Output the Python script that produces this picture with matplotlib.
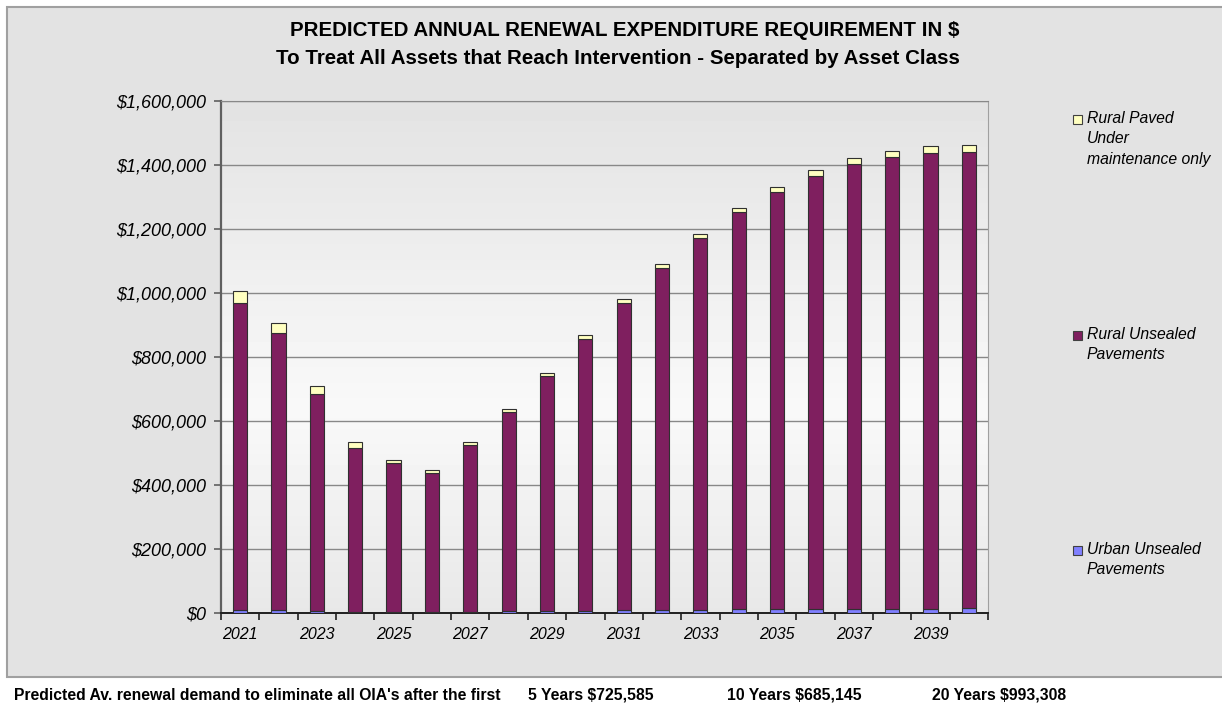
import matplotlib.pyplot as plt
import numpy as np
from matplotlib.patches import Rectangle
from matplotlib.ticker import FuncFormatter, FixedLocator

# ===== DATA =====
years = list(range(2021, 2041))
urban_unsealed = [9000, 9000, 6000, 4000, 4000, 4000, 4000, 5000, 6000, 7000,
                  8000, 9000, 10000, 11000, 11000, 12000, 13000, 14000, 14000, 16000]
rural_unsealed = [961000, 866000, 678000, 512000, 465000, 433000, 521000, 623000, 734000, 849000,
                  961000, 1069000, 1162000, 1242000, 1305000, 1354000, 1390000, 1411000, 1423000, 1425000]
rural_paved = [36000, 31000, 25000, 18000, 9000, 10000, 9000, 9000, 10000, 13000,
               12000, 13000, 12000, 13000, 15000, 18000, 19000, 19000, 22000, 21000]
series_labels = ["Urban Unsealed\nPavements", "Rural Unsealed\nPavements",
                 "Rural Paved\nUnder\nmaintenance only"]
summary_text = "Predicted Av. renewal demand to eliminate all OIA's after the first"
summary_items = ["5 Years $725,585", "10 Years $685,145", "20 Years $993,308"]

colors = ["#8080ff", "#7f1f5f", "#ffffc0"]

plt.rcParams['font.family'] = ['Liberation Sans', 'DejaVu Sans']

fig = plt.figure(figsize=(12.22, 7.07), dpi=100)

# ===== OUTER GRAY PANEL =====
fig.patches.append(Rectangle(
    (7 / 1222, 1 - 677 / 707), 1.0, 670 / 707,
    transform=fig.transFigure, facecolor="#e3e3e3",
    edgecolor="#a0a0a0", linewidth=1.5, zorder=-5
))

ax = fig.add_axes([221 / 1222, 1 - 613 / 707, 767 / 1222, 512 / 707])
ax.set_zorder(2)

# ===== GRADIENT PLOT BACKGROUND =====
grad = np.concatenate([np.linspace(0.89, 0.975, 60), np.linspace(0.975, 0.91, 40)])
ax.imshow(grad[:, None], cmap="gray", vmin=0, vmax=1, aspect="auto",
          extent=[-0.5, 19.5, 0, 1600000], zorder=0)

x = np.arange(len(years))
width = 0.37
bottom = np.zeros(len(years))
for vals, col, lab in zip([urban_unsealed, rural_unsealed, rural_paved], colors, series_labels):
    ax.bar(x, vals, width, bottom=bottom, color=col, edgecolor="#303030",
           linewidth=0.8, label=lab, zorder=3)
    bottom += np.array(vals)

ax.set_xlim(-0.5, 19.5)
ax.set_ylim(0, 1600000)
ax.set_yticks(np.arange(0, 1600001, 200000))
ax.yaxis.set_major_formatter(FuncFormatter(lambda v, p: "${:,.0f}".format(v)))
ax.grid(axis="y", color="#888888", linewidth=1.0, zorder=1)

# boundary ticks, labels on odd years
ax.xaxis.set_major_locator(FixedLocator(np.arange(-0.5, 20, 1)))
ax.set_xticklabels([])
ax.xaxis.set_minor_locator(FixedLocator(x[::2]))
ax.set_xticklabels([str(y) for y in years[::2]], minor=True)
ax.tick_params(axis="x", which="major", length=5, width=1.2, color="#202020", direction="out")
ax.tick_params(axis="x", which="minor", length=0, pad=10, labelsize=11.5)
ax.tick_params(axis="y", length=5, width=1.2, color="#606060", labelsize=13, pad=6)
for lbl in ax.get_xticklabels(minor=True) + ax.get_yticklabels():
    lbl.set_fontstyle("italic")

ax.spines["left"].set_color("#606060")
ax.spines["left"].set_linewidth(1.6)
ax.spines["bottom"].set_color("#202020")
ax.spines["bottom"].set_linewidth(1.4)
ax.spines["top"].set_color("#888888")
ax.spines["right"].set_color("#a0a0a0")

# ===== TITLE =====
fig.text(625 / 1222, 1 - 31 / 707, "PREDICTED ANNUAL RENEWAL EXPENDITURE REQUIREMENT IN $",
         ha="center", va="center", fontsize=14.8, fontweight="bold")
fig.text(618 / 1222, 1 - 58 / 707, "To Treat All Assets that Reach Intervention - Separated by Asset Class",
         ha="center", va="center", fontsize=14.8, fontweight="bold")

# ===== LEGEND (spread vertically) =====
handles, labels = ax.get_legend_handles_labels()
legend_y = [550, 335, 119]
for h, lab, col, ly in zip(handles, labels, colors, legend_y):
    fig.patches.append(Rectangle((1073 / 1222, 1 - (ly + 5) / 707), 9 / 1222, 9 / 707,
                                 transform=fig.transFigure, facecolor=col,
                                 edgecolor="#404040", linewidth=0.8))
    fig.text(1087 / 1222, 1 - (ly - 8) / 707, lab, ha="left", va="top",
             fontsize=11.3, fontstyle="italic", linespacing=1.45)

# ===== FOOTER =====
fig.text(14 / 1222, 1 - 695 / 707, summary_text, ha="left", va="center",
         fontsize=11.3, fontweight="bold")
for item, fx in zip(summary_items, [528, 727, 932]):
    fig.text(fx / 1222, 1 - 695 / 707, item, ha="left", va="center",
             fontsize=11.3, fontweight="bold")

plt.savefig("out.png", dpi=100)
